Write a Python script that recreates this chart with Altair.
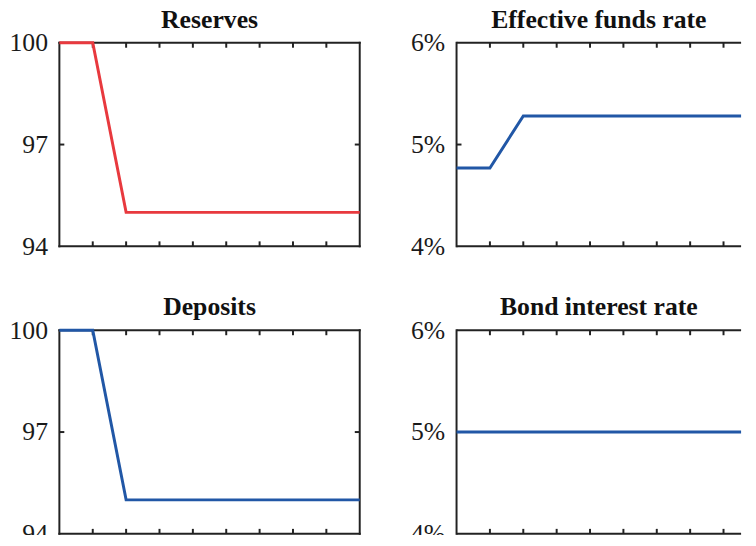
import altair as alt
import pandas as pd

# ---- data ----
t = [0, 1, 2, 3, 4, 5, 6, 7, 8, 9]
reserves = [100, 100, 95, 95, 95, 95, 95, 95, 95, 95]
deposits = [100, 100, 95, 95, 95, 95, 95, 95, 95, 95]
funds_rate = [0.0477, 0.0477, 0.0528, 0.0528, 0.0528, 0.0528, 0.0528, 0.0528, 0.0528, 0.0528]
bond_rate = [0.05, 0.05, 0.05, 0.05, 0.05, 0.05, 0.05, 0.05, 0.05, 0.05]

level_ticks = [94, 97, 100]
rate_ticks = [0.04, 0.05, 0.06]
x_minor = [1, 2, 3, 4, 5, 6, 7, 8]

RED = "#E8393E"
BLUE = "#2157A6"
FRAME = "#222222"
FONT = "Liberation Serif"
H = 206
W_FULL = 304
W_CUT = 288


def panel(values, color, title, ydom, yvals, yfmt, cut):
    W = W_CUT if cut else W_FULL
    xmax = 9 * W / W_FULL
    xs = alt.Scale(domain=[0, xmax], nice=False, zero=False)
    ys = alt.Scale(domain=ydom, nice=False, zero=False)
    yaxis = alt.Axis(
        values=yvals, format=yfmt, title=None, ticks=False, domain=False,
        grid=False, labelPadding=12, labelFont=FONT, labelFontSize=26,
        labelColor="#1a1a1a")
    # the right-hand panels are cut off at the page edge: keep the
    # visible part of the series (last value held to the edge)
    tv = [x for x in t if x <= xmax] if cut else list(t)
    vv = values[:len(tv)]
    if cut:
        tv = tv + [xmax]
        vv = vv + [values[len(tv) - 1]]
    df = pd.DataFrame({"t": tv, "v": vv})

    line = alt.Chart(df).mark_line(color=color, strokeWidth=3).encode(
        x=alt.X("t:Q", scale=xs, axis=None),
        y=alt.Y("v:Q", scale=ys, axis=yaxis),
    )

    # frame
    hb = alt.Chart(pd.DataFrame({"v": ydom})).mark_rule(
        color=FRAME, strokeWidth=2, strokeCap="butt" if cut else "square").encode(
        y=alt.Y("v:Q", scale=ys, axis=yaxis))
    vb_vals = [0] if cut else [0, 9]
    vb = alt.Chart(pd.DataFrame({"t": vb_vals})).mark_rule(
        color=FRAME, strokeWidth=2, strokeCap="square").encode(
        x=alt.X("t:Q", scale=xs, axis=None))

    tdf = pd.DataFrame({"t": [x for x in x_minor if x < xmax]})
    bt = alt.Chart(tdf).mark_rule(color=FRAME, strokeWidth=2).encode(
        x=alt.X("t:Q", scale=xs, axis=None), y=alt.value(H), y2=alt.value(H - 5))
    tt = alt.Chart(tdf).mark_rule(color=FRAME, strokeWidth=2).encode(
        x=alt.X("t:Q", scale=xs, axis=None), y=alt.value(0), y2=alt.value(5))

    ydf = pd.DataFrame({"v": [yvals[1]]})
    lt = alt.Chart(ydf).mark_rule(color=FRAME, strokeWidth=2).encode(
        y=alt.Y("v:Q", scale=ys, axis=yaxis), x=alt.value(0), x2=alt.value(5))
    layers = [hb, vb, bt, tt, lt]
    if not cut:
        rt = alt.Chart(ydf).mark_rule(color=FRAME, strokeWidth=2).encode(
            y=alt.Y("v:Q", scale=ys, axis=yaxis), x=alt.value(W), x2=alt.value(W - 5))
        layers.append(rt)
    layers.append(line)

    return alt.layer(*layers).properties(
        width=W, height=H,
        view=alt.ViewBackground(stroke="transparent"),
        title=alt.TitleParams(title, font=FONT, fontSize=26, fontWeight="bold",
                              color="#111111", offset=-3),
    )


p1 = panel(reserves, RED, "Reserves", [94, 100], level_ticks, "d", False)
p2 = panel(funds_rate, BLUE, "Effective funds rate", [0.04, 0.06], rate_ticks, ".0%", True)
p3 = panel(deposits, BLUE, "Deposits", [94, 100], level_ticks, "d", False)
p4 = panel(bond_rate, BLUE, "Bond interest rate", [0.04, 0.06], rate_ticks, ".0%", True)

chart = alt.vconcat(
    alt.hconcat(p1, p2, spacing=43),
    alt.hconcat(p3, p4, spacing=43),
    spacing=34,
).properties(padding={"left": 0, "top": -5, "right": 0, "bottom": -16},
             background="white")

chart.save("out.html", embed_options={"renderer": "svg", "actions": False})
